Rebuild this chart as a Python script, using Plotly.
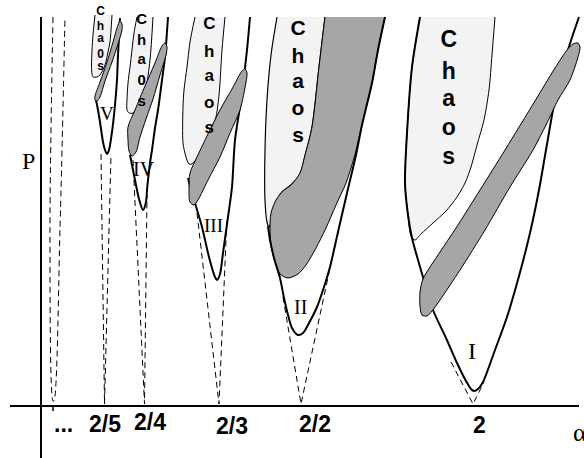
import plotly.graph_objects as go

# ---------------- schematic data (pixel-space coordinates, y downward) ----------------
# frame
axis_v_x = [41, 41];   axis_v_y = [17, 458]
axis_h_x = [10, 579];  axis_h_y = [406, 406]
tick_x = [53, 53];     tick_y = [406, 411]

# tick labels
tick_labels = ["...", "2/5", "2/4", "2/3", "2/2", "2"]
tick_label_x = [63, 105, 150, 232, 315, 479]
tick_label_y = [424, 424, 422, 426, 424, 425]

# tongue I
tongue_I_x = [420, 412, 407, 405, 408, 412, 423, 433, 446, 457, 466, 471, 474, 478, 483, 495, 507, 519, 530, 539, 546, 555, 568, 579]
tongue_I_y = [17, 67, 133, 183, 215, 238, 277, 310, 338, 363, 381, 389, 391, 389, 382, 350, 317, 276, 233, 190, 150, 100, 50, 17]
chaos_I_x = [420, 412, 407, 405, 408, 411, 415, 421, 433, 446, 457, 465, 471, 477, 484, 489, 492, 495]
chaos_I_y = [17, 67, 133, 183, 215, 236, 240, 234, 223, 211, 197, 183, 167, 145, 120, 90, 55, 17]
band_I_x = [420, 423, 440, 456, 480, 505, 535, 555, 567, 573, 578, 580, 578, 570, 558, 546, 533, 510, 485, 460, 440, 432, 427, 422, 420]
band_I_y = [292, 279, 252, 228, 190, 150, 101, 68, 50, 44, 43, 47, 57, 80, 100, 125, 150, 187, 230, 270, 300, 311, 316, 315, 306]
dash_I_x = [451, 473, 484]
dash_I_y = [362, 404, 382]

# tongue II
tongue_II_x = [268, 270, 274, 280, 284, 288, 292, 298, 303, 309, 317, 324, 330, 338, 347, 356, 362, 372, 378, 385]
tongue_II_y = [226, 240, 258, 278, 298, 315, 328, 335, 333, 323, 307, 287, 267, 232, 193, 155, 125, 83, 50, 17]
chaos_II_x = [277, 271, 267, 265, 265, 267, 269, 271, 274, 281, 291, 300, 305, 312, 319, 325]
chaos_II_y = [17, 55, 100, 150, 200, 222, 227, 222, 208, 193, 185, 174, 156, 127, 67, 17]
band_II_x = [325, 319, 312, 305, 300, 291, 283, 276, 271, 270, 271, 275, 280, 288, 298, 306, 316, 326, 336, 346, 354, 362, 372, 378, 385]
band_II_y = [17, 67, 127, 155, 173, 185, 191, 200, 213, 227, 245, 262, 274, 278, 274, 265, 248, 228, 205, 183, 158, 125, 83, 50, 17]
dash_II_x = [283, 301, 330]
dash_II_y = [297, 404, 268]

# tongue III
tongue_III_x = [188, 190, 195, 202, 208, 212, 215, 217, 220, 223, 228, 232, 235, 241, 247, 250]
tongue_III_y = [178, 186, 203, 227, 253, 268, 277, 280, 274, 253, 217, 187, 140, 100, 50, 17]
chaos_III_x = [195, 190, 187, 184, 183, 183, 186, 189, 192, 198, 204, 210, 216, 219, 220, 222, 225]
chaos_III_y = [17, 42, 67, 90, 107, 143, 157, 164, 164, 157, 147, 134, 117, 95, 83, 50, 17]
band_III_x = [190, 197, 208, 220, 232, 242, 245, 247, 246, 240, 230, 220, 208, 198, 194, 190, 189]
band_III_y = [173, 157, 134, 110, 89, 71, 69, 73, 82, 110, 133, 157, 180, 200, 205, 202, 188]
dash_III_x = [197, 219, 227]
dash_III_y = [213, 404, 217]

# tongue IV
tongue_IV_x = [130, 133, 136, 139, 143, 146, 147, 148, 150, 152, 155, 158, 162, 165, 168]
tongue_IV_y = [155, 170, 185, 199, 210, 202, 190, 180, 163, 150, 128, 110, 80, 57, 17]
chaos_IV_x = [137, 134, 132, 130, 128, 127, 127, 129, 133, 140, 146, 150, 153]
chaos_IV_y = [17, 33, 50, 67, 83, 100, 110, 113, 113, 103, 87, 60, 17]
band_IV_x = [128, 135, 145, 155, 162, 165, 167, 166, 160, 153, 146, 140, 136, 132, 129, 128]
band_IV_y = [127, 110, 86, 63, 46, 43, 47, 55, 75, 99, 119, 137, 152, 156, 151, 140]
dash_IV_x = [133, 144.5, 147]
dash_IV_y = [160, 404, 195]

# tongue V
tongue_V_x = [96, 98, 100, 103, 105, 107, 109, 112, 115, 117, 118, 120]
tongue_V_y = [100, 110, 122, 142, 150, 154, 150, 132, 105, 80, 55, 18]
chaos_V_x = [95, 93, 92, 91.5, 92, 93, 97, 100, 105, 108, 110, 112]
chaos_V_y = [15, 35, 50, 65, 74, 77, 77, 75, 65, 52, 42, 15]
band_V_x = [95, 100, 107, 113, 118, 120, 122, 122, 118, 112, 105, 100, 97, 95]
band_V_y = [96, 82, 62, 42, 25, 21, 24, 30, 44, 62, 81, 97, 101, 100]
dash_V_x = [101, 104.5, 111]
dash_V_y = [154, 404, 154]

# leftmost "..." family
dash_0_x = [53, 50, 53, 54, 60, 65]
dash_0_y = [17, 229, 401, 401, 229, 17]

# region labels
roman_labels = ["I", "II", "III", "IV", "V"]
roman_x = [472, 300, 213, 144, 107]
roman_y = [351, 307, 225, 169, 113]
roman_size = [24, 20, 19, 20, 19]

chaos_letters = ["C", "h", "a", "o", "s"]
chaos_letters_small = ["C", "h", "a", "0", "s"]
chaos_I_ty = [41.7, 73, 103, 131.7, 160.7]
chaos_II_ty = [30, 57.5, 85, 111.7, 139]
chaos_III_ty = [25, 53, 78, 105, 130]
chaos_IV_ty = [20, 41.7, 61.7, 81.7, 103.3]
chaos_V_ty = [11.7, 27, 40, 55, 68.3]

LIGHT = "#f3f3f3"
GRAY = "#a6a6a6"

fig = go.Figure()


def fill_poly(xs, ys, color):
    fig.add_trace(go.Scatter(x=xs, y=ys, mode="lines", fill="toself", fillcolor=color,
                             line=dict(color="rgba(0,0,0,0)", width=0, shape="spline", smoothing=0.8),
                             hoverinfo="skip", showlegend=False))


def curve(xs, ys, width=1.0, dash=None, shape="spline", closed=False):
    if closed:
        xs = list(xs) + [xs[0]]
        ys = list(ys) + [ys[0]]
    fig.add_trace(go.Scatter(x=xs, y=ys, mode="lines",
                             line=dict(color="black", width=width, dash=dash, shape=shape, smoothing=0.8),
                             hoverinfo="skip", showlegend=False))


def letters(xc, ys, chars, size):
    adj = [y - (0.1 * size if c in "aos" else 0) for y, c in zip(ys, chars)]
    fig.add_trace(go.Scatter(x=[xc] * len(chars), y=adj, mode="text", text=chars,
                             textposition="middle center",
                             textfont=dict(family="Liberation Sans", size=size, color="black", weight="bold"),
                             hoverinfo="skip", showlegend=False))


DASH = "6px,4px"

# dashed tongue continuations
curve(dash_0_x, dash_0_y, 1, DASH)
for dx, dy in [(dash_V_x, dash_V_y), (dash_IV_x, dash_IV_y), (dash_III_x, dash_III_y),
               (dash_II_x, dash_II_y), (dash_I_x, dash_I_y)]:
    curve(dx, dy, 1, DASH, shape="linear")

# tongues with band drawn over the tongue edge
for cx, cy, tx, ty, bx, by in [
    (chaos_V_x, chaos_V_y, tongue_V_x, tongue_V_y, band_V_x, band_V_y),
    (chaos_IV_x, chaos_IV_y, tongue_IV_x, tongue_IV_y, band_IV_x, band_IV_y),
    (chaos_III_x, chaos_III_y, tongue_III_x, tongue_III_y, band_III_x, band_III_y),
    (chaos_I_x, chaos_I_y, tongue_I_x, tongue_I_y, band_I_x, band_I_y),
]:
    fill_poly(cx, cy, LIGHT)
    curve(cx, cy, 1)
    curve(tx, ty, 2)
    fill_poly(bx, by, GRAY)
    curve(bx, by, 1, closed=True)

# tongue II: band inside, tongue edge on top
fill_poly(chaos_II_x, chaos_II_y, LIGHT)
curve(chaos_II_x, chaos_II_y, 1.2)
fill_poly(band_II_x, band_II_y, GRAY)
curve(band_II_x, band_II_y, 1)
curve(tongue_II_x, tongue_II_y, 2)

# axes
curve(axis_v_x, axis_v_y, 2, shape="linear")
curve(axis_h_x, axis_h_y, 2, shape="linear")
curve(tick_x, tick_y, 1.5, shape="linear")

# chaos texts
letters(448.7, chaos_I_ty, chaos_letters, 23)
letters(298, chaos_II_ty, chaos_letters, 21)
letters(209.3, chaos_III_ty, chaos_letters, 17)
letters(141.7, chaos_IV_ty, chaos_letters_small, 15)
letters(100.5, chaos_V_ty, chaos_letters_small, 12)

# roman numerals
for t, x, y, s in zip(roman_labels, roman_x, roman_y, roman_size):
    fig.add_annotation(x=x, y=y, text=t, showarrow=False, xanchor="center", yanchor="middle",
                       font=dict(family="Liberation Serif", size=s, color="black"))

# tick labels
for t, x, y in zip(tick_labels, tick_label_x, tick_label_y):
    fig.add_annotation(x=x, y=y, text=t, showarrow=False, xanchor="center", yanchor="middle",
                       font=dict(family="Liberation Sans", size=23, color="black", weight="bold"))

# axis titles
fig.add_annotation(x=28, y=161, text="P", showarrow=False, xanchor="center", yanchor="middle",
                   font=dict(family="Liberation Serif", size=24, color="black"))
fig.add_annotation(x=571, y=432, text="α", showarrow=False, xanchor="left", yanchor="middle",
                   font=dict(family="Liberation Serif", size=26, color="black"))

fig.update_layout(
    width=584, height=458,
    margin=dict(l=0, r=0, t=0, b=0),
    paper_bgcolor="white", plot_bgcolor="white",
    xaxis=dict(range=[0, 584], visible=False, fixedrange=True),
    yaxis=dict(range=[458, 0], visible=False, fixedrange=True),
    showlegend=False,
)

fig.write_html("out.html")
